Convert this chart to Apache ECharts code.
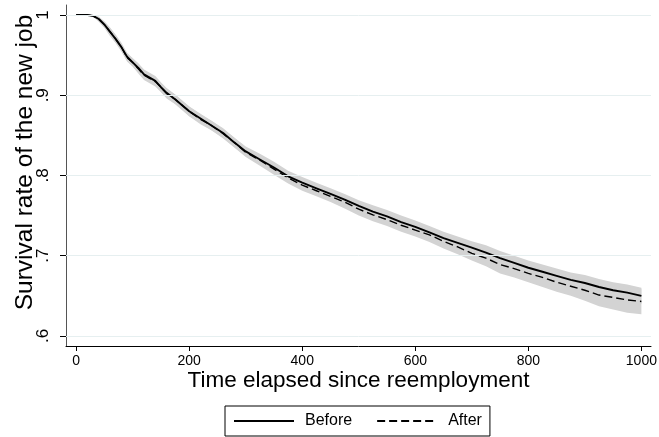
<!DOCTYPE html>
<html>
<head>
<meta charset="utf-8">
<script src="https://cdn.jsdelivr.net/npm/echarts@6/dist/echarts.min.js"></script>
<style>
  html, body { margin: 0; padding: 0; background: #fff; }
  #chart { width: 659px; height: 437px; }
</style>
</head>
<body>
<div id="chart"></div>
<script>
// Kaplan-Meier survival of the new job, before vs after, with 95% bands
const days = [0, 20, 30, 40, 50, 60, 70, 80, 90, 100, 110, 120, 130, 140, 150, 160, 175, 190, 200,
  220, 240, 260, 280, 300, 325, 350, 375, 400, 425, 450, 475, 500, 525, 550, 575, 600, 625, 650,
  675, 700, 725, 750, 775, 800, 825, 850, 875, 900, 925, 950, 975, 1000];

const before = [1.000, 1.000, 0.999, 0.995, 0.988, 0.979, 0.970, 0.960, 0.948, 0.941, 0.934, 0.926,
  0.922, 0.918, 0.910, 0.903, 0.895, 0.886, 0.880, 0.871, 0.862, 0.853, 0.841, 0.830, 0.820, 0.810,
  0.799, 0.791, 0.784, 0.777, 0.770, 0.762, 0.755, 0.749, 0.742, 0.736, 0.729, 0.722, 0.716, 0.710,
  0.704, 0.697, 0.691, 0.685, 0.680, 0.675, 0.670, 0.666, 0.661, 0.657, 0.654, 0.650];
const beforeLow = [1.000, 1.000, 0.998, 0.992, 0.984, 0.974, 0.965, 0.955, 0.943, 0.936, 0.928, 0.920,
  0.916, 0.912, 0.904, 0.897, 0.889, 0.880, 0.874, 0.865, 0.856, 0.847, 0.835, 0.824, 0.813, 0.803,
  0.792, 0.784, 0.777, 0.770, 0.763, 0.755, 0.747, 0.741, 0.734, 0.728, 0.721, 0.714, 0.708, 0.702,
  0.695, 0.688, 0.682, 0.676, 0.671, 0.666, 0.661, 0.656, 0.651, 0.647, 0.644, 0.640];
const beforeHigh = [1.000, 1.000, 1.000, 0.998, 0.992, 0.984, 0.975, 0.965, 0.953, 0.946, 0.940, 0.932,
  0.928, 0.924, 0.916, 0.909, 0.901, 0.892, 0.886, 0.877, 0.868, 0.859, 0.847, 0.836, 0.827, 0.817,
  0.806, 0.798, 0.791, 0.784, 0.777, 0.769, 0.763, 0.757, 0.750, 0.744, 0.737, 0.730, 0.724, 0.718,
  0.713, 0.706, 0.700, 0.694, 0.689, 0.684, 0.679, 0.676, 0.671, 0.667, 0.664, 0.660];

const after = [1.000, 1.000, 0.999, 0.995, 0.988, 0.979, 0.970, 0.960, 0.947, 0.941, 0.933, 0.925,
  0.921, 0.917, 0.910, 0.902, 0.895, 0.886, 0.880, 0.870, 0.862, 0.852, 0.841, 0.829, 0.819, 0.808,
  0.797, 0.788, 0.781, 0.774, 0.767, 0.758, 0.751, 0.745, 0.738, 0.732, 0.726, 0.718, 0.711, 0.703,
  0.697, 0.689, 0.684, 0.678, 0.673, 0.667, 0.662, 0.657, 0.651, 0.648, 0.645, 0.643];
const afterLow = [1.000, 1.000, 0.998, 0.992, 0.984, 0.974, 0.965, 0.955, 0.942, 0.936, 0.927, 0.919,
  0.915, 0.911, 0.904, 0.896, 0.889, 0.880, 0.874, 0.864, 0.856, 0.846, 0.835, 0.823, 0.812, 0.801,
  0.790, 0.781, 0.774, 0.767, 0.759, 0.750, 0.743, 0.737, 0.730, 0.724, 0.717, 0.709, 0.702, 0.694,
  0.687, 0.678, 0.673, 0.667, 0.661, 0.655, 0.650, 0.644, 0.637, 0.633, 0.629, 0.627];
const afterHigh = [1.000, 1.000, 1.000, 0.998, 0.992, 0.984, 0.975, 0.965, 0.952, 0.946, 0.939, 0.931,
  0.927, 0.923, 0.916, 0.908, 0.901, 0.892, 0.886, 0.876, 0.868, 0.858, 0.847, 0.835, 0.826, 0.815,
  0.804, 0.795, 0.788, 0.781, 0.775, 0.766, 0.759, 0.753, 0.746, 0.740, 0.735, 0.727, 0.720, 0.712,
  0.707, 0.700, 0.695, 0.689, 0.685, 0.679, 0.674, 0.670, 0.665, 0.663, 0.661, 0.659];

const xTicks = [0, 200, 400, 600, 800, 1000];
const xTickLabels = ['0', '200', '400', '600', '800', '1000'];
const yTicks = [0.6, 0.7, 0.8, 0.9, 1.0];
const yTickLabels = ['.6', '.7', '.8', '.9', '1'];

const FONT = "'Liberation Sans', Arial, Helvetica, sans-serif";
const BAND = '#d3d3d3';

function pairs(xs, ys) {
  return xs.map((x, i) => [x, ys[i]]);
}

function tickText(ticks, labels) {
  return function (v) {
    const i = ticks.findIndex(t => Math.abs(t - v) < 1e-9);
    return i >= 0 ? labels[i] : '';
  };
}

// Closed polygon: upper bound left to right, lower bound right to left
function bandSeries(low, high) {
  return {
    type: 'custom',
    z: 2,
    silent: true,
    data: [[days[0], high[0]]],
    encode: { x: 0, y: 1 },
    renderItem: function (params, api) {
      const pts = [];
      for (let i = 0; i < days.length; i++) pts.push(api.coord([days[i], high[i]]));
      for (let i = days.length - 1; i >= 0; i--) pts.push(api.coord([days[i], low[i]]));
      return { type: 'polygon', shape: { points: pts }, style: { fill: BAND, stroke: null } };
    }
  };
}

const chart = echarts.init(document.getElementById('chart'), null, { renderer: 'canvas' });

chart.setOption({
  animation: false,
  backgroundColor: '#ffffff',
  textStyle: { fontFamily: FONT },
  grid: { left: 66, right: 8, top: 5, bottom: 91, containLabel: false, outerBoundsMode: 'none' },
  xAxis: {
    type: 'value',
    min: -18,
    max: 1017,
    name: 'Time elapsed since reemployment',
    nameLocation: 'middle',
    nameGap: 23,
    nameMoveOverlap: false,
    nameTextStyle: { fontSize: 22.5, color: '#000', fontFamily: FONT },
    axisLine: { show: true, onZero: false, lineStyle: { color: '#000', width: 1 } },
    axisTick: { show: true, length: 5, customValues: xTicks, lineStyle: { color: '#000' } },
    axisLabel: {
      customValues: xTicks,
      fontSize: 14,
      color: '#000',
      margin: 8,
      fontFamily: FONT,
      formatter: tickText(xTicks, xTickLabels)
    },
    splitLine: { show: false }
  },
  yAxis: {
    type: 'value',
    min: 0.5875,
    max: 1.0125,
    name: 'Survival rate of the new job',
    nameLocation: 'middle',
    nameGap: 28,
    nameRotate: 90,
    nameMoveOverlap: false,
    nameTextStyle: { fontSize: 24.5, color: '#000', fontFamily: FONT, padding: [0, 0, 0, 26] },
    axisLine: { show: true, onZero: false, lineStyle: { color: '#555', width: 1 } },
    axisTick: { show: true, length: 6, customValues: yTicks, lineStyle: { color: '#000' } },
    axisLabel: {
      customValues: yTicks,
      rotate: 90,
      fontSize: 17,
      color: '#000',
      margin: 14,
      fontFamily: FONT,
      formatter: tickText(yTicks, yTickLabels)
    },
    splitLine: { show: false }
  },
  legend: {
    data: ['Before', 'After'],
    left: 225,
    top: 406,
    orient: 'horizontal',
    itemWidth: 60,
    itemHeight: 12,
    itemGap: 24,
    padding: [7, 8, 7, 8],
    borderColor: '#000',
    borderWidth: 1,
    itemStyle: { opacity: 0 },
    textStyle: { fontSize: 16, color: '#000', fontFamily: FONT, padding: [0, 0, 0, 6] }
  },
  series: [
    {
      name: 'grid',
      type: 'line',
      data: [],
      z: 1,
      silent: true,
      markLine: {
        silent: true,
        symbol: 'none',
        label: { show: false },
        lineStyle: { color: '#e6eff0', width: 1, type: 'solid' },
        data: yTicks.map(v => ({ yAxis: v }))
      }
    },
    bandSeries(beforeLow, beforeHigh),
    bandSeries(afterLow, afterHigh),
    {
      name: 'Before',
      type: 'line',
      z: 4,
      symbol: 'none',
      data: pairs(days, before),
      lineStyle: { color: '#000', width: 1.9, type: 'solid' },
      itemStyle: { color: '#000' }
    },
    {
      name: 'After',
      type: 'line',
      z: 3,
      symbol: 'none',
      data: pairs(days, after),
      lineStyle: { color: '#000', width: 1.4, type: [8, 4] },
      itemStyle: { color: '#000' }
    }
  ]
});
</script>
</body>
</html>
